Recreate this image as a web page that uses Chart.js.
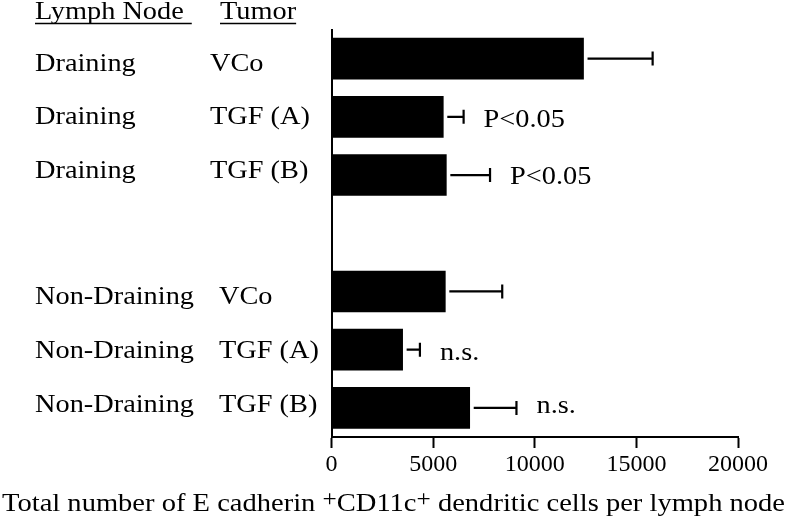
<!DOCTYPE html>
<html><head><meta charset="utf-8">
<script src="https://cdn.jsdelivr.net/npm/chart.js@4"></script>
<style>html,body{margin:0;padding:0;background:#fff}#wrap{width:787px;height:520px}</style>
</head><body><div id="wrap"><canvas id="c" width="787" height="520"></canvas></div>
<script>
const lymphNode = ["Draining","Draining","Draining","","Non-Draining","Non-Draining","Non-Draining"];
const tumor = ["VCo","TGF (A)","TGF (B)","","VCo","TGF (A)","TGF (B)"];
const means = [12400,5500,5650,null,5600,3500,6800];
const errorTops = [15800,6500,7800,null,8400,4350,9100];
const significance = ["","P<0.05","P<0.05","","","n.s.","n.s."];
const xTicks = [0,5000,10000,15000,20000];
const headers = ["Lymph Node","Tumor"];
const xTitleParts = ["Total number of E cadherin ","+","CD11c","+"," dendritic cells per lymph node"];

const FONT = "'Liberation Serif','Times New Roman',serif";
const SX = 1.09;
// vertical text nudges (layout only): row label baselines and annotation baselines relative to bar centre
const ROW_DY = [12.3, 7, 3.3, 0, 13, 8.3, 3.8];
const SIG_DY = [9, 9.7, 9, 0, 0, 10.5, 5.5];

function sText(ctx, str, x, y, sx){
  ctx.save(); ctx.translate(x,y); ctx.scale(sx,1); ctx.fillText(str,0,0); ctx.restore();
  return ctx.measureText(str).width*sx;
}

const labelsPlugin = {
  id:'labelsPlugin',
  afterDatasetsDraw(chart){
    const ctx = chart.ctx, xs = chart.scales.x, ys = chart.scales.y;
    ctx.save();
    ctx.fillStyle='#000'; ctx.strokeStyle='#000';
    // error bars
    ctx.lineWidth = 2.2;
    for(let i=0;i<means.length;i++){
      if(means[i]==null) continue;
      const y = ys.getPixelForValue(i);
      const x0 = xs.getPixelForValue(means[i])+4;
      const x1 = xs.getPixelForValue(errorTops[i]);
      ctx.beginPath(); ctx.moveTo(x0,y); ctx.lineTo(x1,y);
      ctx.moveTo(x1,y-7); ctx.lineTo(x1,y+7); ctx.stroke();
    }
    ctx.font = "26px "+FONT;
    ctx.textBaseline='alphabetic'; ctx.textAlign='left';
    // significance
    for(let i=0;i<means.length;i++){
      if(!significance[i]) continue;
      const y = ys.getPixelForValue(i);
      const x = xs.getPixelForValue(errorTops[i])+20;
      sText(ctx, significance[i], x, y+SIG_DY[i], SX);
    }
    // row labels
    for(let i=0;i<lymphNode.length;i++){
      if(!lymphNode[i]) continue;
      const y = ys.getPixelForValue(i)+ROW_DY[i];
      const w = sText(ctx, lymphNode[i], 35, y, SX);
      const tx = Math.max(210, 35+w+25);
      sText(ctx, tumor[i], tx, y, SX);
    }
    // headers
    const hx = [35,220];
    ctx.lineWidth = 1.5;
    headers.forEach((h,k)=>{
      const w = sText(ctx, h, hx[k], 19, SX);
      const ext = k===0 ? 8 : 0;
      ctx.beginPath(); ctx.moveTo(hx[k],23.5); ctx.lineTo(hx[k]+w+ext,23.5); ctx.stroke();
    });
    // x title
    const mainF = "26px "+FONT, supF = "23px "+FONT;
    let total=0;
    xTitleParts.forEach((p,k)=>{ ctx.font = (k===1||k===3)?supF:mainF; total += ctx.measureText(p).width; });
    const sx = 783/total;
    let x = 2;
    xTitleParts.forEach((p,k)=>{
      const sup = (k===1||k===3);
      ctx.font = sup?supF:mainF;
      x += sText(ctx, p, x, sup?506:511, sx);
    });
    ctx.restore();
  }
};

new Chart(document.getElementById('c'), {
  type:'bar',
  data:{
    labels: lymphNode.map((l,i)=> l ? l+" "+tumor[i] : ""),
    datasets:[{ data: means, backgroundColor:'#000', borderWidth:0, barThickness:41 }]
  },
  options:{
    indexAxis:'y',
    responsive:false,
    animation:false,
    devicePixelRatio:1,
    layout:{ padding:{ left:331.5, right:49, top:29.5, bottom:0 } },
    plugins:{ legend:{display:false}, tooltip:{enabled:false} },
    scales:{
      x:{
        type:'linear', min:0, max:20000,
        afterBuildTicks: s => { s.ticks = xTicks.map(v=>({value:v})); },
        ticks:{ color:'#000', font:{ family:FONT, size:24 }, padding:2, maxRotation:0, autoSkip:false,
                callback: v => String(v) },
        grid:{ display:true, drawOnChartArea:false, drawTicks:true, tickLength:11, tickWidth:2, tickColor:'#000' },
        border:{ display:true, color:'#000', width:2 },
        afterFit: s => { s.height = 83; }
      },
      y:{
        type:'category',
        ticks:{ display:false },
        grid:{ display:true, drawOnChartArea:false, drawTicks:false },
        border:{ display:true, color:'#000', width:2 },
        afterFit: s => { s.width = 0; }
      }
    }
  },
  plugins:[labelsPlugin]
});
</script></body></html>
